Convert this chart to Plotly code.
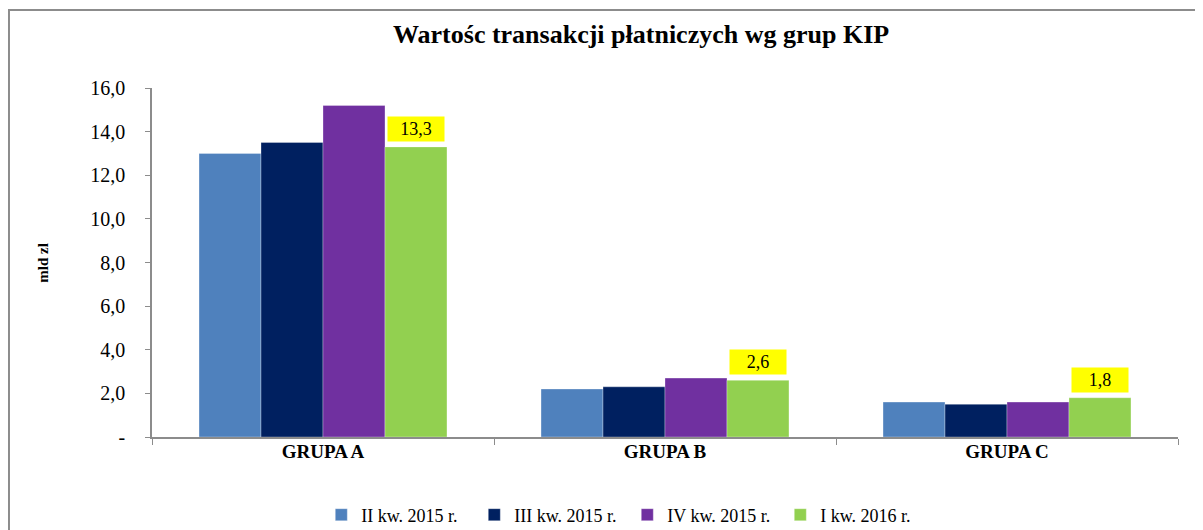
import plotly.graph_objects as go

categories = ["GRUPA A", "GRUPA B", "GRUPA C"]
series_names = ["II kw. 2015 r.", "III kw. 2015 r.", "IV kw. 2015 r.", "I kw. 2016 r."]
s_q2_2015 = [13.0, 2.2, 1.6]
s_q3_2015 = [13.5, 2.3, 1.5]
s_q4_2015 = [15.2, 2.7, 1.6]
s_q1_2016 = [13.3, 2.6, 1.8]
colors = ["#4F81BD", "#002060", "#7030A0", "#92D050"]
tick_vals = [0, 2, 4, 6, 8, 10, 12, 14, 16]
tick_text = ["-", "2,0", "4,0", "6,0", "8,0", "10,0", "12,0", "14,0", "16,0"]

FONT = "Liberation Serif"
series = [s_q2_2015, s_q3_2015, s_q4_2015, s_q1_2016]

fig = go.Figure()
for name, vals, col in zip(series_names, series, colors):
    fig.add_trace(go.Bar(x=categories, y=vals, name=name,
                         marker=dict(color=col, line=dict(color="rgba(255,255,255,0.6)", width=0.5))))

bargap = 0.275
n = len(series)
bw = (1 - bargap) / n
offset = (n - 1) / 2 * bw
annotations = []
for i, v in enumerate(s_q1_2016):
    annotations.append(dict(
        x=i + offset, y=v, xref="x", yref="y", yanchor="bottom", yshift=5,
        text=f"{v:.1f}".replace(".", ","), showarrow=False,
        bgcolor="#FFFF00", font=dict(family=FONT, size=18, color="black"),
        width=54, height=22))

annotations.append(dict(x=-0.107, y=0.5, xref="paper", yref="paper", xanchor="center", yanchor="middle",
                        text="<b>mld zl</b>", textangle=-90, showarrow=False,
                        font=dict(family=FONT, size=15, color="black")))
annotations.append(dict(x=0.4766, y=1.152, xref="paper", yref="paper", xanchor="center", yanchor="middle",
                        text="<b>Wartośc transakcji płatniczych wg grup KIP</b>", showarrow=False,
                        font=dict(family=FONT, size=26, color="black")))

fig.update_layout(
    width=1195, height=522,
    margin=dict(l=144, r=25, t=80, b=93),
    paper_bgcolor="white", plot_bgcolor="white",
    barmode="group", bargap=bargap, bargroupgap=0,
    font=dict(family=FONT, size=16, color="black"),
    showlegend=True,
    legend=dict(orientation="h", x=0.165, xref="paper", y=0.0287, yref="container",
                xanchor="left", yanchor="middle",
                font=dict(family=FONT, size=18, color="black"), entrywidth=108, itemwidth=30,
                traceorder="normal"),
    annotations=annotations,
    shapes=[dict(type="rect", xref="paper", yref="paper", x0=-0.1394, x1=1.04, y0=-0.32, y1=1.2235,
                 line=dict(color="#8C8C8C", width=2), layer="below")],
    xaxis=dict(type="category", range=[-0.5, 2.5], showline=True, linecolor="#8C8C8C", linewidth=1.5,
               ticks="outside", tickson="boundaries", ticklen=6, tickcolor="#8C8C8C", automargin=False,
               tickfont=dict(family=FONT, size=19, color="black"), showgrid=False, ticklabelstandoff=-4,
               tickprefix="<b>", ticksuffix="</b>"),
    yaxis=dict(range=[0, 16], tickvals=tick_vals, ticktext=tick_text, showline=True, automargin=False,
               linecolor="#8C8C8C", linewidth=1.5, ticks="outside", ticklen=5, tickcolor="#8C8C8C",
               showgrid=False, zeroline=False, ticklabelstandoff=16,
               tickfont=dict(family=FONT, size=20, color="black")),
)

fig.write_html("out.html")
